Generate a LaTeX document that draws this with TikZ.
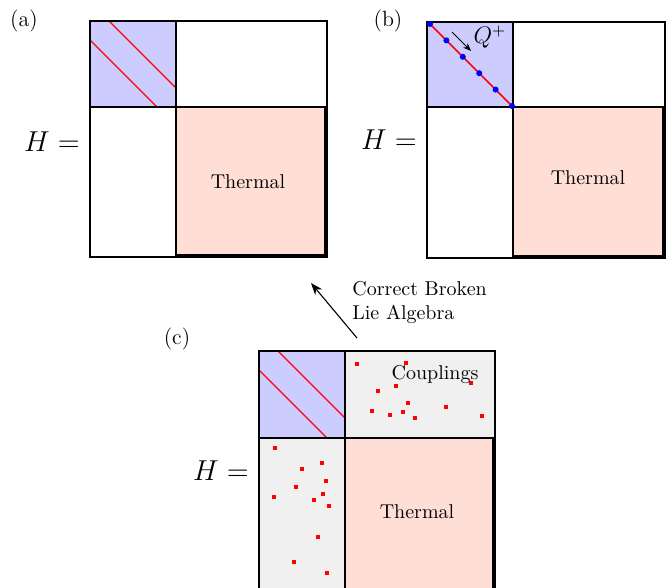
\documentclass[tikz,border=0pt]{standalone}
\usetikzlibrary{arrows.meta,calc}
\definecolor{blk}{RGB}{204,204,255}
\definecolor{thm}{RGB}{255,222,214}
\definecolor{cpl}{RGB}{240,240,240}
\begin{document}
\begin{tikzpicture}[x=0.5pt,y=-0.5pt,
  outer/.style={draw=black,line width=1.2pt},
  inner/.style={draw=black,line width=0.7pt},
  redline/.style={draw=red,line width=0.7pt},
  lbl/.style={font=\fontsize{11}{13}\selectfont},
  heq/.style={font=\Large},
  dotb/.style={fill=blue,circle,inner sep=0pt,minimum size=3pt},
  dotr/.style={fill=red,inner sep=0pt,minimum size=2.2pt}]
\clip (0,0) rectangle (672,587);
% ---------- panel (a)
\fill[blk] (90,21) rectangle (176,107);
\fill[thm] (176,107) rectangle (327,257);
\draw[redline] (109,21) -- (176,88);
\draw[redline] (90,40) -- (157,107);
\draw[inner] (176,21) -- (176,257);
\draw[inner] (90,107) -- (327,107);
\draw[inner] (176,107) rectangle (325,255);
\draw[outer] (90,21) rectangle (327,257);
\draw[outer] (90,21) rectangle (176,107);
\node[lbl] (la) at (24,21) {(a)};
\node[heq] (ha) at (52,142) {$H=$};
\node (ta) at (248,182) {Thermal};
% ---------- panel (b)
\fill[blk] (427,22) rectangle (513,107);
\fill[thm] (513,107) rectangle (665,258);
\draw[inner] (513,22) -- (513,258);
\draw[inner] (427,107) -- (665,107);
\draw[inner] (513,107) rectangle (663,256);
\draw[outer] (427,22) rectangle (665,258);
\draw[outer] (427,22) -- (513,22);
\coordinate (d0) at (430,24);
\coordinate (d5) at (512,106);
\draw[red,line width=0.8pt] (d0) -- (d5);
\foreach \i in {0,...,5}{
  \node[dotb] (db\i) at ($(d0)!\i/5!(d5)$) {};
}
\coordinate (qs) at (452,32);
\coordinate (qe) at (471,51);
\draw[-{Stealth[length=4pt,width=3.2pt]},line width=0.5pt] (qs) -- (qe);
\node[font=\large] (q) at (490,37) {$Q^{+}$};
\node[lbl] (lb) at (388,21) {(b)};
\node[heq] (hb) at (389,140) {$H=$};
\node (tb) at (588,178) {Thermal};
% ---------- panel (c)
\fill[blk] (259,351) rectangle (345,438);
\fill[cpl] (345,351) rectangle (495,438);
\fill[cpl] (259,438) rectangle (345,600);
\fill[thm] (345,438) rectangle (495,600);
\draw[redline] (278,351) -- (345,418);
\draw[redline] (259,370) -- (327,438);
\draw[inner] (345,351) -- (345,600);
\draw[inner] (259,438) -- (495,438);
\draw[inner] (345,438) rectangle (493,600);
\draw[outer] (259,351) rectangle (495,600);
\draw[outer] (259,351) rectangle (345,438);
\foreach \p [count=\k] in {(357,364),(406,363),(471,383),(378,391),(396,386),(408,403),(446,407),(372,411),(390,415),(403,412),(415,418),(482,416),
  (275,448),(322,463),(302,469),(326,481),(296,487),(274,497),(323,494),(314,500),(329,506),(318,537),(294,562),(327,573)}{
  \node[dotr] (r\k) at \p {};
}
\node (cp) at (435,375) {Couplings};
\node[lbl] (lc) at (177,339) {(c)};
\node[heq] (hc) at (221,471) {$H=$};
\node (tc) at (417,512) {Thermal};
% ---------- arrow
\coordinate (as) at (357,338);
\coordinate (ae) at (311,283);
\draw[-{Stealth[length=6pt,width=4.5pt]},line width=0.55pt] (as) -- (ae);
\node[anchor=west,align=left,inner sep=0pt] (al) at (352,303) {Correct Broken\\Lie Algebra};
\end{tikzpicture}
\end{document}
